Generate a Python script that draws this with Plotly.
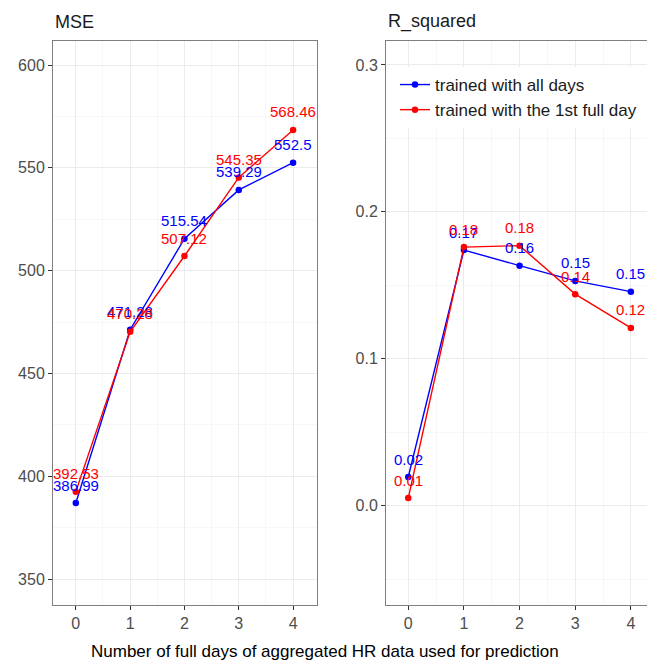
import plotly.graph_objects as go

days = [0, 1, 2, 3, 4]
series_names = ["trained with all days", "trained with the 1st full day"]
mse_all = [386.99, 471.28, 515.54, 539.29, 552.5]
mse_first = [392.53, 470.28, 507.12, 545.35, 568.46]
r2_all = [0.0195, 0.174, 0.1634, 0.153, 0.1457]
r2_first = [0.0052, 0.176, 0.177, 0.144, 0.121]
r2_all_labels = ["0.02", "0.17", "0.16", "0.15", "0.15"]
r2_first_labels = ["0.01", "0.18", "0.18", "0.14", "0.12"]
colors = ["#0000FF", "#FF0000"]
panel_titles = ["MSE", "R_squared"]
x_title = "Number of full days of aggregated HR data used for prediction"

FONT = "Liberation Sans, Arial, sans-serif"
W, H = 647, 660


def px(x):
    return x / W


def py(y):
    return 1 - y / H


fig = go.Figure()

for name, vals, col in zip(series_names, [mse_all, mse_first], colors):
    fig.add_trace(go.Scatter(x=days, y=vals, mode="lines+markers", name=name,
                             line=dict(color=col, width=1.4), marker=dict(color=col, size=6.5),
                             xaxis="x", yaxis="y", showlegend=False, hoverinfo="skip"))
for name, vals, col in zip(series_names, [r2_all, r2_first], colors):
    fig.add_trace(go.Scatter(x=days, y=vals, mode="lines+markers", name=name,
                             line=dict(color=col, width=1.4), marker=dict(color=col, size=6.5),
                             xaxis="x2", yaxis="y2", showlegend=True, hoverinfo="skip"))

annotations = []
for vals, col in zip([mse_all, mse_first], colors):
    for xv, yv in zip(days, vals):
        annotations.append(dict(x=xv, y=yv, xref="x", yref="y", text=f"{yv:g}",
                                showarrow=False, yshift=18,
                                font=dict(family=FONT, size=15, color=col)))
for vals, labs, col in zip([r2_all, r2_first], [r2_all_labels, r2_first_labels], colors):
    for xv, yv, lab in zip(days, vals, labs):
        annotations.append(dict(x=xv, y=yv, xref="x2", yref="y2", text=lab,
                                showarrow=False, yshift=18,
                                font=dict(family=FONT, size=15, color=col)))

annotations.append(dict(x=px(53), y=py(22), xref="paper", yref="paper", text=panel_titles[0],
                        showarrow=False, xanchor="left", yanchor="middle",
                        font=dict(family=FONT, size=18, color="#1A1A1A")))
annotations.append(dict(x=px(386), y=py(22), xref="paper", yref="paper", text=panel_titles[1],
                        showarrow=False, xanchor="left", yanchor="middle",
                        font=dict(family=FONT, size=18, color="#1A1A1A")))
annotations.append(dict(x=px(325), y=py(651), xref="paper", yref="paper", text=x_title,
                        showarrow=False, xanchor="center", yanchor="middle",
                        font=dict(family=FONT, size=17, color="#000000")))

ydom = [py(605), py(41)]
axis_common = dict(showline=True, mirror=True, linecolor="#7F7F7F", linewidth=1,
                   ticks="outside", ticklen=4, tickcolor="#333333", tickwidth=1,
                   showgrid=True, gridcolor="#EBEBEB", gridwidth=1, zeroline=False,
                   tickfont=dict(family=FONT, size=16, color="#4D4D4D"))
minor = dict(showgrid=True, gridcolor="#F2F2F2", gridwidth=0.6, ticks="")

fig.update_layout(
    width=W, height=H,
    margin=dict(l=0, r=0, t=0, b=0),
    paper_bgcolor="white", plot_bgcolor="white",
    showlegend=True,
    legend=dict(x=px(395), y=py(67), xanchor="left", yanchor="top",
                bgcolor="white", font=dict(family=FONT, size=17, color="#1A1A1A")),
    xaxis=dict(domain=[px(53), px(317)], range=[-0.42, 4.44], tickvals=days, anchor="y",
               minor=dict(dtick=0.5, tick0=0.5, **minor), **axis_common),
    yaxis=dict(domain=ydom, range=[337.4, 611.7], dtick=50, tick0=350, anchor="x",
               minor=dict(dtick=25, tick0=325, **minor), **axis_common),
    xaxis2=dict(domain=[px(386), 1.0], range=[-0.40, 4.29], tickvals=days, anchor="y2",
                minor=dict(dtick=0.5, tick0=0.5, **minor), **axis_common),
    yaxis2=dict(domain=ydom, range=[-0.0676, 0.3163], dtick=0.1, tick0=0, anchor="x2",
                tickformat=".1f",
                minor=dict(dtick=0.05, tick0=-0.05, **minor), **axis_common),
    annotations=annotations,
)

fig.write_html(
    "out.html",
    config={"displayModeBar": False, "staticPlot": True},
    post_script=("document.documentElement.style.overflow='hidden';"
                 "document.body.style.overflow='hidden';"
                 "document.body.style.margin='0';document.body.style.padding='0';"),
)
